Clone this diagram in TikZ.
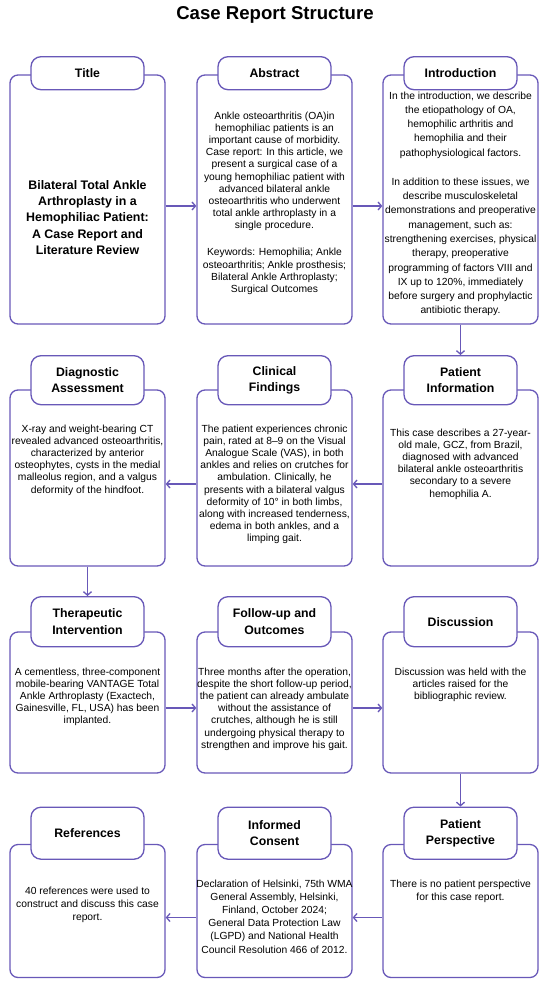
\documentclass[tikz,border=0pt]{standalone}
\usepackage{fontspec}
\setmainfont{Liberation Sans}
\usepackage{xcolor}
\usepackage{tikz}
\usetikzlibrary{arrows.meta, positioning}
\definecolor{caseviolet}{RGB}{104,88,184}

\begin{document}
\begin{tikzpicture}[x=1pt,y=-1pt,>={Straight Barb[length=3.5pt,width=8pt]},
  panel/.style={draw=caseviolet,line width=1.3pt,rounded corners=8pt,
        minimum width=155pt},
  head/.style={draw=caseviolet,fill=white,line width=1.3pt,rounded corners=10pt,
        minimum width=113pt,minimum height=#1,align=center,inner sep=0pt,
        font=\fontsize{12.3}{16.5}\selectfont\bfseries},
  head/.default=49pt,
  body/.style={align=center,inner sep=0pt,font=\fontsize{10.3}{12.2}\selectfont},
  flow/.style={->,draw=caseviolet,line width=1.3pt}]
  \useasboundingbox (0,0) rectangle (550,982);

  \node[font=\fontsize{18.6}{21}\selectfont\bfseries] (heading) at (275,15)
    {Case Report Structure};

  % row 1
  \node[panel,minimum height=249pt] (ttl) at (87.5,199.5) {};
  \node[panel,minimum height=249pt] (abs) at (274.5,199.5) {};
  \node[panel,minimum height=249pt] (intro) at (460.5,199.5) {};
  \node[head=33pt,above=-16pt of ttl] (ttl-h) {Title};
  \node[head=33pt,above=-16pt of abs] (abs-h) {Abstract};
  \node[head=33pt,above=-16pt of intro] (intro-h) {Introduction};
  \node[align=center,inner sep=0pt,font=\fontsize{12.4}{16.25}\selectfont\bfseries]
    (ttl-t) at ([yshift=-18pt]ttl.center)
    {Bilateral Total Ankle\\Arthroplasty in a\\Hemophiliac Patient:\\
     A Case Report and\\Literature Review};
  \node[body,below=21pt of abs-h] (abs-t)
    {Ankle osteoarthritis (OA)in\\hemophiliac patients is an\\
     important cause of morbidity.\\Case report: In this article, we\\
     present a surgical case of a\\young hemophiliac patient with\\
     advanced bilateral ankle\\osteoarthritis who underwent\\
     total ankle arthroplasty in a\\single procedure.\\[14.8pt]
     Keywords: Hemophilia; Ankle\\osteoarthritis; Ankle prosthesis;\\
     Bilateral Ankle Arthroplasty;\\Surgical Outcomes};
  \node[body,font=\fontsize{10.3}{14.3}\selectfont,below=1pt of intro-h] (intro-t)
    {In the introduction, we describe\\the etiopathology of OA,\\
     hemophilic arthritis and\\hemophilia and their\\
     pathophysiological factors.\\[14.7pt]
     In addition to these issues, we\\describe musculoskeletal\\
     demonstrations and preoperative\\management, such as:\\
     strengthening exercises, physical\\therapy, preoperative\\
     programming of factors VIII and\\IX up to 120\%, immediately\\
     before surgery and prophylactic\\antibiotic therapy.};
  \draw[flow] ([yshift=-6.5pt]ttl.east) -- ([yshift=-6.5pt]abs.west);
  \draw[flow] ([yshift=-6.5pt]abs.east) -- ([yshift=-6.5pt]intro.west);

  % row 2
  \node[panel,minimum height=176pt] (diag) at (87.5,478) {};
  \node[panel,minimum height=176pt] (clin) at (274.5,478) {};
  \node[panel,minimum height=176pt] (info) at (460.5,478) {};
  \node[head,above=-16pt of diag] (diag-h) {Diagnostic\\Assessment};
  \node[head,above=-16pt of clin] (clin-h) {Clinical\\Findings};
  \node[head,above=-16pt of info] (info-h) {Patient\\Information};
  \node[body,below=19pt of diag-h] (diag-t)
    {X-ray and weight-bearing CT\\revealed advanced osteoarthritis,\\
     characterized by anterior\\osteophytes, cysts in the medial\\
     malleolus region, and a valgus\\deformity of the hindfoot.};
  \node[body,below=19pt of clin-h] (clin-t)
    {The patient experiences chronic\\pain, rated at 8--9 on the Visual\\
     Analogue Scale (VAS), in both\\ankles and relies on crutches for\\
     ambulation. Clinically, he\\presents with a bilateral valgus\\
     deformity of 10° in both limbs,\\along with increased tenderness,\\
     edema in both ankles, and a\\limping gait.};
  \node[body,below=23pt of info-h] (info-t)
    {This case describes a 27-year-\\old male, GCZ, from Brazil,\\
     diagnosed with advanced\\bilateral ankle osteoarthritis\\
     secondary to a severe\\hemophilia A.};
  \draw[flow] (intro) -- (info-h);
  \draw[flow] ([yshift=-6pt]info.west) -- ([yshift=-6pt]clin.east);
  \draw[flow] ([yshift=-6pt]clin.west) -- ([yshift=-6pt]diag.east);

  % row 3
  \node[panel,minimum height=141pt] (ther) at (87.5,702.5) {};
  \node[panel,minimum height=141pt] (foll) at (274.5,702.5) {};
  \node[panel,minimum height=141pt] (disc) at (460.5,702.5) {};
  \node[head=50pt,above=-16pt of ther] (ther-h) {Therapeutic\\Intervention};
  \node[head=50pt,above=-16pt of foll] (foll-h) {Follow-up and\\Outcomes};
  \node[head=50pt,above=-16pt of disc] (disc-h) {Discussion};
  \node[body,below=20pt of ther-h] (ther-t)
    {A cementless, three-component\\mobile-bearing VANTAGE Total\\
     Ankle Arthroplasty (Exactech,\\Gainesville, FL, USA) has been\\
     implanted.};
  \node[body,below=20pt of foll-h] (foll-t)
    {Three months after the operation,\\despite the short follow-up period,\\
     the patient can already ambulate\\without the assistance of\\
     crutches, although he is still\\undergoing physical therapy to\\
     strengthen and improve his gait.};
  \node[body,below=20pt of disc-h] (disc-t)
    {Discussion was held with the\\articles raised for the\\
     bibliographic review.};
  \draw[flow] (diag) -- (ther-h);
  \draw[flow] ([yshift=-5.5pt]ther.east) -- ([yshift=-5.5pt]foll.west);
  \draw[flow] ([yshift=-5.5pt]foll.east) -- ([yshift=-5.5pt]disc.west);

  % row 4
  \node[panel,minimum height=133pt] (refs) at (87.5,911) {};
  \node[panel,minimum height=133pt] (cons) at (274.5,911) {};
  \node[panel,minimum height=133pt] (persp) at (460.5,911) {};
  \node[head=52pt,above=-16pt of refs] (refs-h) {References};
  \node[head=52pt,above=-16pt of cons] (cons-h) {Informed\\Consent};
  \node[head=52pt,above=-16pt of persp] (persp-h) {Patient\\Perspective};
  \node[body,font=\fontsize{10.3}{13.1}\selectfont,below=27pt of refs-h] (refs-t)
    {40 references were used to\\construct and discuss this case\\report.};
  \node[body,font=\fontsize{10.3}{13.1}\selectfont,below=20pt of cons-h] (cons-t)
    {Declaration of Helsinki, 75th WMA\\General Assembly, Helsinki,\\
     Finland, October 2024;\\General Data Protection Law\\
     (LGPD) and National Health\\Council Resolution 466 of 2012.};
  \node[body,font=\fontsize{10.3}{13.1}\selectfont,below=20pt of persp-h] (persp-t)
    {There is no patient perspective\\for this case report.};
  \draw[flow] (disc) -- (persp-h);
  \draw[flow] ([yshift=-6.5pt]persp.west) -- ([yshift=-6.5pt]cons.east);
  \draw[flow] ([yshift=-6.5pt]cons.west) -- ([yshift=-6.5pt]refs.east);
\end{tikzpicture}
\end{document}
